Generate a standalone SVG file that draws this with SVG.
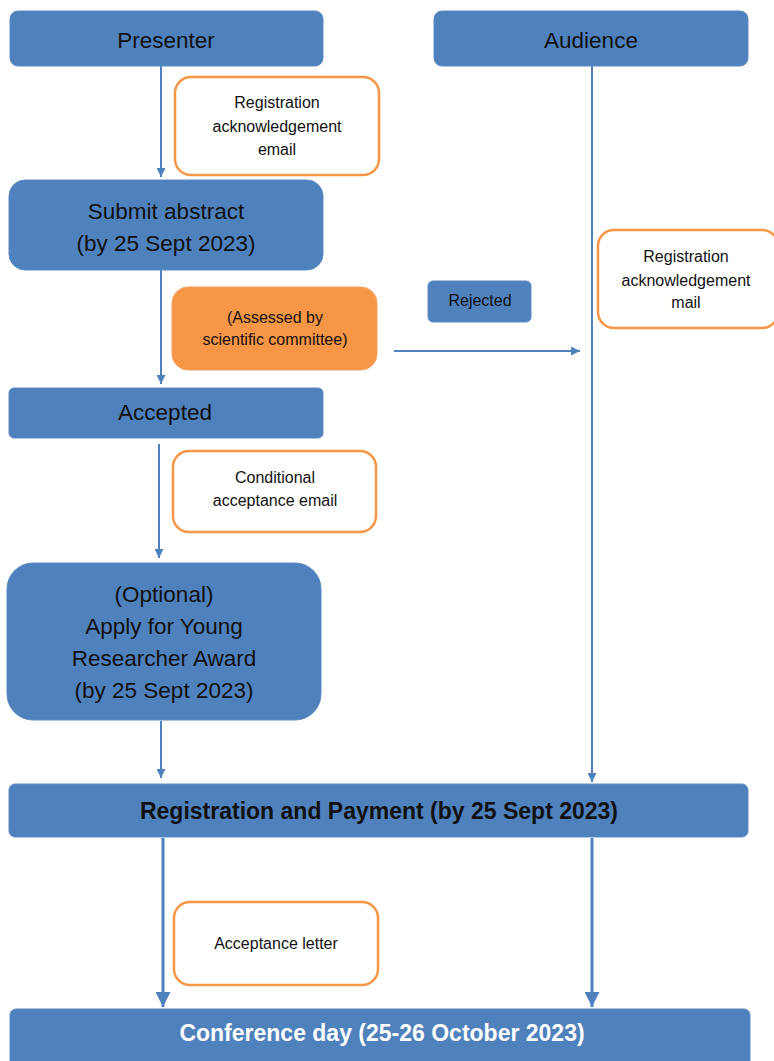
<svg xmlns="http://www.w3.org/2000/svg" width="774" height="1061" viewBox="0 0 774 1061">
<defs>
<marker id="ah" viewBox="0 0 10 10" refX="10" refY="5" markerWidth="4.5" markerHeight="4.5" markerUnits="strokeWidth" orient="auto"><path d="M0,0 L10,5 L0,10 z" fill="#4F81BD"/></marker>
<marker id="ahb" viewBox="0 0 10 10" refX="10" refY="5" markerWidth="5" markerHeight="5" markerUnits="strokeWidth" orient="auto"><path d="M0,0 L10,5 L0,10 z" fill="#4F81BD"/></marker>
</defs>
<style>
.b{fill:#4F81BD;stroke:#5B8AC4;stroke-width:1}
.o{fill:#FFFFFF;stroke:#F79646;stroke-width:2.5}
.of{fill:#F79646;stroke:#F8A060;stroke-width:1}
text{font-family:"Liberation Sans",Arial,sans-serif;text-anchor:middle}
.t1{font-size:22.5px;fill:#111}
.t2{font-size:16px;fill:#111}
.tb{font-size:23px;font-weight:bold;fill:#111}
.tw{font-size:23px;font-weight:bold;fill:#fff}
.c{stroke:#4F81BD;stroke-width:2;fill:none}
.ct{stroke:#4F81BD;stroke-width:3;fill:none}
</style>
<rect width="774" height="1061" fill="#fff"/>
<g id="connectors">
<line class="c" x1="161" y1="66" x2="161" y2="177" marker-end="url(#ah)"/>
<line class="c" x1="161" y1="270" x2="161" y2="384" marker-end="url(#ah)"/>
<line class="c" x1="394" y1="351" x2="580" y2="351" marker-end="url(#ah)"/>
<line class="c" x1="592" y1="66" x2="592" y2="782" marker-end="url(#ah)"/>
<line class="c" x1="159" y1="444" x2="159" y2="558" marker-end="url(#ah)"/>
<line class="c" x1="161" y1="721" x2="161" y2="778" marker-end="url(#ah)"/>
<line class="ct" x1="163" y1="838" x2="163" y2="1007" marker-end="url(#ahb)"/>
<line class="ct" x1="592" y1="838" x2="592" y2="1007" marker-end="url(#ahb)"/>
</g>
<g id="presenter"><rect class="b" x="10" y="11" width="313" height="55" rx="8"/><text class="t1" x="166" y="48">Presenter</text></g>
<g id="audience"><rect class="b" x="434" y="11" width="314" height="55" rx="8"/><text class="t1" x="591" y="48">Audience</text></g>
<g id="reg-ack-email"><rect class="o" x="175" y="77" width="204" height="98" rx="16"/><text class="t2" x="277" y="108">Registration</text><text class="t2" x="277" y="132">acknowledgement</text><text class="t2" x="277" y="155">email</text></g>
<g id="submit"><rect class="b" x="9" y="180" width="314" height="90" rx="16"/><text class="t1" x="166" y="219">Submit abstract</text><text class="t1" x="166" y="251">(by 25 Sept 2023)</text></g>
<g id="assessed"><rect class="of" x="172" y="287" width="205" height="83" rx="16"/><text class="t2" x="275" y="323">(Assessed by</text><text class="t2" x="275" y="345">scientific committee)</text></g>
<g id="rejected"><rect class="b" x="428" y="281" width="103" height="41" rx="5"/><text class="t2" x="480" y="306">Rejected</text></g>
<g id="reg-ack-mail"><rect class="o" x="598" y="230" width="180" height="98" rx="16"/><text class="t2" x="686" y="262">Registration</text><text class="t2" x="686" y="286">acknowledgement</text><text class="t2" x="686" y="308">mail</text></g>
<g id="accepted"><rect class="b" x="9" y="388" width="314" height="50" rx="5"/><text class="t1" x="165" y="420">Accepted</text></g>
<g id="conditional"><rect class="o" x="173" y="451" width="203" height="81" rx="16"/><text class="t2" x="275" y="483">Conditional</text><text class="t2" x="275" y="506">acceptance email</text></g>
<g id="optional"><rect class="b" x="7" y="563" width="314" height="157" rx="26"/><text class="t1" x="164" y="602">(Optional)</text><text class="t1" x="164" y="634">Apply for Young</text><text class="t1" x="164" y="666">Researcher Award</text><text class="t1" x="164" y="698">(by 25 Sept 2023)</text></g>
<g id="registration-payment"><rect class="b" x="9" y="784" width="739" height="53" rx="6"/><text class="tb" x="379" y="819">Registration and Payment (by 25 Sept 2023)</text></g>
<g id="acceptance-letter"><rect class="o" x="174" y="902" width="204" height="83" rx="16"/><text class="t2" x="276" y="949">Acceptance letter</text></g>
<g id="conference-day"><rect class="b" x="10" y="1009" width="740" height="60" rx="6"/><text class="tw" x="382" y="1041">Conference day (25-26 October 2023)</text></g>
</svg>
